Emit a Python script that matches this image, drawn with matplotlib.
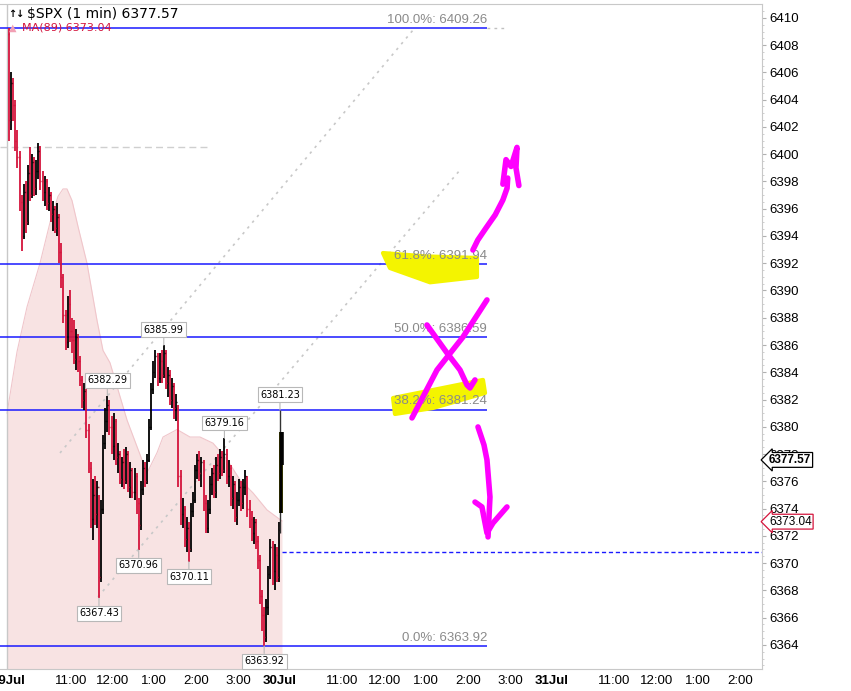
import matplotlib
matplotlib.use("Agg")
import matplotlib.pyplot as plt
from matplotlib.patches import Polygon, Rectangle

plt.rcParams['font.family'] = ['Liberation Sans', 'DejaVu Sans']

# 29 Jul session in 3-minute bars (x = minutes after 9:30), open of bar i = close of bar i-1
first_open = 6408.8
bar_close = [
    6402.5, 6405.2, 6403.6, 6401.0, 6399.8, 6396.5, 6394.0, 6397.2, 6395.0, 6398.6,
    6397.0, 6399.4, 6397.5, 6398.8, 6400.2, 6398.0, 6397.2, 6398.0, 6396.4, 6397.0,
    6395.6, 6396.0, 6394.6, 6395.4, 6392.8, 6391.0, 6388.2, 6386.2, 6389.0, 6387.0,
    6386.4, 6385.0, 6386.6, 6384.8, 6383.4, 6382.0, 6382.6, 6379.8, 6377.0, 6373.2,
    6375.0, 6373.6, 6375.6, 6369.0, 6374.0, 6378.8, 6380.4, 6381.6, 6380.0, 6378.6,
    6380.4, 6377.8, 6378.0, 6376.2, 6377.4, 6376.0, 6378.0, 6375.6, 6376.8, 6375.2,
    6376.4, 6374.4, 6372.8, 6375.4, 6377.0, 6376.0, 6377.6, 6380.0, 6382.8, 6384.0,
    6385.2, 6383.6, 6384.8, 6383.8, 6385.4, 6383.2, 6383.8, 6382.0, 6383.0, 6381.4,
    6381.8, 6376.4, 6373.6, 6374.0, 6371.8, 6372.6, 6371.0, 6373.8, 6374.6, 6376.8,
    6377.6, 6376.6, 6377.4, 6374.4, 6372.6, 6374.0, 6375.8, 6376.6, 6375.2, 6377.2,
    6376.6, 6377.8, 6376.8, 6378.0, 6376.4, 6377.0, 6374.8, 6375.8, 6373.4, 6374.6,
    6375.6, 6374.4, 6375.6, 6376.4, 6374.0, 6373.2, 6372.2, 6373.0, 6371.6, 6370.2,
    6367.6, 6366.2, 6364.6, 6366.8, 6369.2, 6371.2, 6369.4, 6370.6, 6369.0, 6372.4,
]
bar_high = [
    6409.26, 6406.0, 6405.6, 6404.0, 6401.8, 6400.2, 6397.0, 6397.8, 6398.0, 6399.2,
    6400.5, 6400.0, 6399.8, 6399.6, 6400.8, 6400.6, 6398.8, 6398.4, 6398.2, 6397.6,
    6397.2, 6396.6, 6396.2, 6396.4, 6395.6, 6393.5, 6391.2, 6388.6, 6389.6, 6390.0,
    6388.0, 6387.8, 6387.2, 6386.8, 6385.2, 6383.7, 6383.2, 6382.8, 6380.2, 6377.4,
    6376.2, 6376.4, 6376.0, 6375.0, 6374.6, 6379.4, 6381.4, 6382.29, 6382.0, 6380.8,
    6381.0, 6380.6, 6378.8, 6378.2, 6377.8, 6378.4, 6378.5, 6378.2, 6377.4, 6377.0,
    6377.0, 6376.6, 6374.8, 6376.0, 6377.6, 6377.4, 6378.0, 6380.6, 6383.2, 6384.8,
    6385.6, 6385.4, 6385.4, 6385.6, 6385.99, 6385.6, 6384.4, 6384.2, 6383.6, 6383.2,
    6382.4, 6381.6, 6376.8, 6374.8, 6374.2, 6373.4, 6373.0, 6374.4, 6375.2, 6377.2,
    6378.0, 6378.2, 6377.8, 6377.6, 6375.0, 6374.6, 6376.4, 6377.0, 6377.2, 6377.8,
    6378.0, 6378.4, 6378.2, 6379.16, 6378.4, 6377.6, 6377.2, 6376.4, 6376.0, 6375.2,
    6376.2, 6376.0, 6376.2, 6376.8, 6376.4, 6374.6, 6373.8, 6373.4, 6373.2, 6372.0,
    6370.6, 6368.0, 6366.8, 6367.4, 6369.8, 6371.8, 6371.6, 6371.4, 6371.2, 6373.0,
]
bar_low = [
    6401.0, 6401.8, 6402.4, 6400.2, 6399.0, 6395.8, 6392.9, 6393.8, 6394.2, 6394.8,
    6396.6, 6396.8, 6396.9, 6397.0, 6398.2, 6397.4, 6396.6, 6396.2, 6395.9, 6395.8,
    6395.0, 6394.4, 6394.2, 6394.0, 6392.0, 6390.2, 6387.6, 6385.6, 6385.8, 6386.2,
    6385.4, 6384.6, 6384.2, 6384.0, 6383.0, 6381.4, 6381.2, 6379.2, 6376.6, 6372.6,
    6371.7, 6372.8, 6372.6, 6367.43, 6368.6, 6373.6, 6378.4, 6379.6, 6379.4, 6378.0,
    6377.6, 6377.2, 6376.6, 6375.8, 6375.6, 6375.4, 6375.8, 6375.2, 6374.8, 6374.8,
    6374.6, 6373.6, 6370.96, 6372.4, 6375.0, 6375.6, 6375.8, 6377.4, 6379.8, 6382.4,
    6383.6, 6383.0, 6383.2, 6383.2, 6383.6, 6382.8, 6382.2, 6381.6, 6381.4, 6380.6,
    6380.4, 6375.6, 6372.8, 6372.6, 6371.2, 6370.8, 6370.11, 6370.8, 6373.4, 6374.4,
    6376.2, 6376.0, 6375.6, 6373.8, 6372.2, 6372.2, 6373.6, 6375.0, 6374.8, 6374.8,
    6376.0, 6376.2, 6376.4, 6376.6, 6375.8, 6375.6, 6374.2, 6374.0, 6373.0, 6372.8,
    6374.2, 6373.8, 6374.0, 6375.0, 6373.4, 6372.6, 6371.6, 6371.4, 6371.0, 6369.6,
    6367.0, 6365.0, 6363.92, 6364.2, 6366.2, 6368.8, 6368.4, 6368.0, 6368.6, 6368.6,
]

# first bars of 30 Jul
day2_minute = [390.2, 391.6, 392.6]
day2_open = [6372.4, 6373.9, 6379.5]
day2_high = [6381.23, 6379.6, 6379.6]
day2_low = [6372.2, 6373.7, 6377.2]
day2_close = [6373.9, 6379.5, 6377.57]
last_price = 6377.57

# MA(89) outline
ma_minute = [-1.4, 12.9, 27.3, 45.9, 60.3, 71.7, 78.9, 84.6, 91.8, 100.4, 113.3, 127.7,
             136.3, 146.3, 170.7, 199.4, 213.8, 222.4, 242.5, 261.1, 275.5, 294.1,
             314.2, 332.9, 351.5, 371.6, 393.1]
ma_value = [6381.0, 6385.5, 6388.8, 6392.0, 6395.0, 6396.9, 6397.45, 6397.45, 6396.6,
            6394.7, 6392.0, 6387.8, 6385.6, 6384.7, 6380.5, 6376.6, 6378.1, 6379.25,
            6379.8, 6379.25, 6379.25, 6378.8, 6377.6, 6376.1, 6375.15, 6373.9, 6373.09]
ma_last = 6373.04

fib_pct = ['100.0%', '61.8%', '50.0%', '38.2%', '0.0%']
fib_level = [6409.26, 6391.94, 6386.59, 6381.24, 6363.92]
fib_end = 687.2

prev_close_level = 6400.5
blue_dash_level = 6370.8

high_label_bars = [47, 74, 103]
low_label_bars = [43, 62, 86, 122]

# dotted trend lines (minute, price)
trend_a = ([74.6, 581.1], [6378.08, 6409.11])
trend_b = ([129.1, 648.5], [6367.52, 6398.84])

tick_minutes = [0, 90, 150, 210, 270, 330, 390, 480, 540, 600, 660, 720,
                780, 870, 930, 990, 1050]
tick_labels = ['29Jul', '11:00', '12:00', '1:00', '2:00', '3:00', '30Jul', '11:00',
               '12:00', '1:00', '2:00', '3:00', '31Jul', '11:00', '12:00', '1:00', '2:00']

# hand drawn marks (minute, price)
pen_up_x = [667, 674, 686, 699, 710, 716, 717]
pen_up_y = [6392.97, 6393.7, 6394.6, 6395.55, 6396.64, 6397.5, 6398.25]
pen_up_head_x = [710, 714.5, 721.7, 730.3, 728.8, 733]
pen_up_head_y = [6397.8, 6399.6, 6399.1, 6400.5, 6399.0, 6397.7]
pen_x1_x = [579.6, 615.5, 652.8, 687.2]
pen_x1_y = [6380.65, 6384.17, 6386.59, 6389.31]
pen_x2_x = [601.1, 629.8, 648.5, 658.5, 662.8, 670]
pen_x2_y = [6387.47, 6385.42, 6384.17, 6383.07, 6382.85, 6383.44]
pen_dn_x = [674.3, 682.9, 687.2, 691.5, 688.7]
pen_dn_y = [6379.99, 6378.67, 6377.57, 6374.85, 6371.92]
pen_dn_head_x = [670, 680, 687.2, 695.8, 715.9]
pen_dn_head_y = [6374.48, 6374.12, 6372.21, 6372.94, 6374.12]
hl_618_x = [538, 600, 672.9, 672.9, 605.5, 548]
hl_618_y = [6392.75, 6392.5, 6392.39, 6390.99, 6390.6, 6391.65]
hl_382_x = [552.4, 681.5, 684.4, 609.8, 555.2]
hl_382_y = [6382.11, 6383.44, 6382.48, 6381.38, 6380.94]

RED = '#d4143c'
BLUE = '#1a1aff'


def _label(ax, x, y, above):
    off = 11 if above else -11
    ax.annotate(f"{y:.2f}", xy=(x, y), xytext=(0, off), textcoords='offset points',
                ha='center', va='center', fontsize=7, family='DejaVu Sans',
                bbox=dict(boxstyle='square,pad=0.25', fc='white', ec='#b8b8b8', lw=0.8),
                arrowprops=dict(arrowstyle='-', color='#b8b8b8', lw=0.8,
                                shrinkA=0, shrinkB=0),
                zorder=7)


fig = plt.figure(figsize=(8.51, 6.91), dpi=100)
ax = fig.add_axes([0, 22 / 691, 762 / 851, 665 / 691])
ax.set_xlim(-11.5, 1081.8)
ax.set_ylim(6362.23, 6411.02)

# MA shaded area
ax.fill_between(ma_minute, ma_value, 6350, color='#f8e3e3', lw=0, zorder=1)
ax.plot(ma_minute, ma_value, color='#f0c6cb', lw=0.8, zorder=1.1)

ax.axvline(-1.4, color='#c8c8c8', lw=1, zorder=1.2)
ax.hlines(prev_close_level, -11.5, 285.5, colors='#cfcfcf', lw=1,
          linestyles=(0, (5, 3)), zorder=1.5)

# fibonacci levels
for pct, lvl in zip(fib_pct, fib_level):
    ax.hlines(lvl, -11.5, fib_end, colors=BLUE, lw=1.1, zorder=2)
    ax.text(fib_end, lvl + 0.18, f"{pct}: {lvl:.2f}", ha='right', va='bottom',
            color='#8a8a8a', fontsize=9.5, zorder=5)
ax.hlines(fib_level[0], fib_end, 716, colors='#c0c0c0', lw=1,
          linestyles=(0, (2, 3)), zorder=2)
ax.hlines(blue_dash_level, 393, 1081.8, colors=BLUE, lw=1,
          linestyles=(0, (3, 2)), zorder=2)

for tx, ty in (trend_a, trend_b):
    ax.plot(tx, ty, color='#c8c8c8', lw=1.2, linestyle=(0, (1.5, 3)), zorder=1.8)

# yellow highlights
for hx, hy in ((hl_618_x, hl_618_y), (hl_382_x, hl_382_y)):
    ax.add_patch(Polygon(list(zip(hx, hy)), closed=True, fc='#f4f400',
                         ec='#f4f400', lw=3, joinstyle='round', zorder=4))
hl_lo = min(day2_low[1:])
hl_hi = max(day2_high[1:])
ax.add_patch(Rectangle((day2_minute[1] - 2.2, hl_lo), 5.0, hl_hi - hl_lo,
                       fc='#f4f400', ec='none', zorder=2.5))

# price bars
minutes = [3 * i + 1.5 for i in range(len(bar_close))]
opens = [first_open] + bar_close[:-1]
colors = ['black' if c >= o else RED for o, c in zip(opens, bar_close)]
ax.vlines(minutes, bar_low, bar_high, colors=colors, lw=1.3, zorder=3)
ax.hlines(opens, [m - 1.2 for m in minutes], minutes, colors=colors, lw=1.0, zorder=3)
ax.hlines(bar_close, minutes, [m + 1.2 for m in minutes], colors=colors, lw=1.0, zorder=3)
ax.vlines(day2_minute[:1], day2_low[:1], day2_high[:1], colors='#333333', lw=1.0, zorder=3)
ax.vlines(day2_minute[1:], day2_low[1:], day2_high[1:], colors='black', lw=2.6, zorder=3)

# value labels
for i in high_label_bars:
    _label(ax, minutes[i], bar_high[i], True)
for i in low_label_bars:
    _label(ax, minutes[i], bar_low[i], False)
_label(ax, day2_minute[0], day2_high[0], True)

# hand drawn pen marks
pen = dict(color='#ff00ff', lw=4.0, solid_capstyle='round', solid_joinstyle='round', zorder=8)
for px, py in ((pen_up_x, pen_up_y), (pen_up_head_x, pen_up_head_y),
               (pen_x1_x, pen_x1_y), (pen_x2_x, pen_x2_y),
               (pen_dn_x, pen_dn_y), (pen_dn_head_x, pen_dn_head_y)):
    ax.plot(px, py, **pen)

# axes styling
for side in ('top', 'right', 'bottom'):
    ax.spines[side].set_color('#c8c8c8')
ax.spines['left'].set_visible(False)
ax.yaxis.tick_right()
ax.set_yticks(range(6364, 6411, 2))
ax.set_yticks([6362.5 + 0.5 * k for k in range(97)], minor=True)
ax.tick_params(axis='y', which='major', labelsize=9.5, length=3, color='#b0b0b0', pad=2)
ax.tick_params(axis='y', which='minor', length=1.5, color='#c8c8c8')
ax.set_xticks(tick_minutes)
ax.set_xticklabels(tick_labels)
ax.tick_params(axis='x', labelsize=9.5, length=0, pad=4)
for lab in ax.get_xticklabels():
    if 'Jul' in lab.get_text():
        lab.set_fontweight('bold')

# right side price tags
ax.annotate(f"{last_price:.2f}", xy=(1.0, last_price), xycoords=('axes fraction', 'data'),
            xytext=(5, 0), textcoords='offset points', ha='left', va='center',
            fontsize=8.5, fontweight='bold', annotation_clip=False,
            bbox=dict(boxstyle='larrow,pad=0.12', fc='white', ec='black', lw=0.9), zorder=10)
ax.annotate(f"{ma_last:.2f}", xy=(1.0, ma_last), xycoords=('axes fraction', 'data'),
            xytext=(5, 0), textcoords='offset points', ha='left', va='center',
            fontsize=8.5, annotation_clip=False,
            bbox=dict(boxstyle='larrow,pad=0.12', fc='white', ec=RED, lw=0.9), zorder=10)

# header
ax.text(0.011, 0.985, '↑↓', transform=ax.transAxes, fontsize=7, fontweight='bold',
        family='DejaVu Sans', va='center', ha='left')
ax.text(0.036, 0.985, f'$SPX (1 min) {last_price:.2f}', transform=ax.transAxes,
        fontsize=10, family='DejaVu Sans', va='center', ha='left')
ax.text(0.012, 0.964, '▲', transform=ax.transAxes, fontsize=7, color='#f2a0b4',
        family='DejaVu Sans', va='center', ha='left')
ax.text(0.029, 0.964, f'MA(89) {ma_last:.2f}', transform=ax.transAxes,
        fontsize=8, color=RED, family='DejaVu Sans', va='center', ha='left')

fig.savefig('out.png', dpi=100)
